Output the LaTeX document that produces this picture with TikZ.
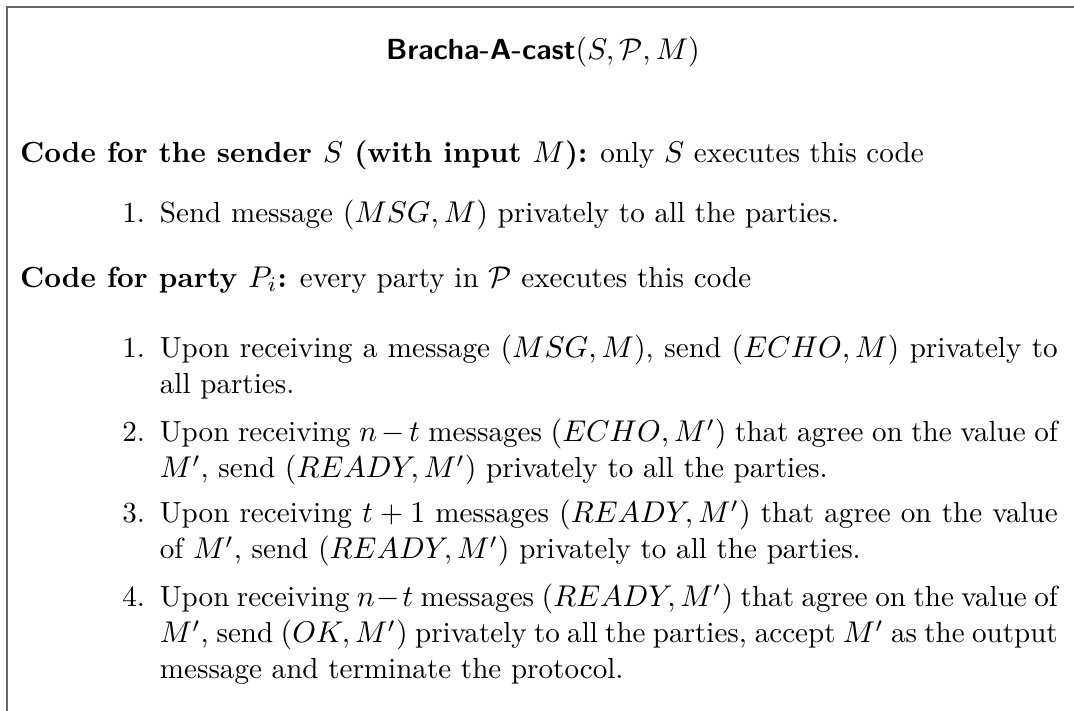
\documentclass[tikz,border=0pt]{standalone}
\usepackage{amsmath}
\begin{document}
\begin{tikzpicture}[x=1pt,y=-1pt,
  txt/.style={inner sep=0pt, outer sep=0pt, font=\fontsize{9.7pt}{12pt}\selectfont},
  itembody/.style={txt, anchor=north west, text width=299.3pt, align=justify},
  itemnum/.style={txt, anchor=base east},
  heading/.style={txt, anchor=base west},
  frame/.style={draw=black!60, line width=0.7pt}]
\useasboundingbox (0,0) rectangle (358,237);
\draw[frame] (2.33,250) -- (2.33,2.33) -- (370,2.33);
\node[txt, anchor=base] (title) at (181,20) {\textsf{\textbf{Bracha-A-cast}}$(S,\mathcal{P},M)$};
\node[heading] (h1) at (6.7,54.3) {\textbf{Code for the sender $S$ (with input $M$):} only $S$ executes this code};
\node[itemnum] (s1n) at (48.3,74.3) {1.};
\node[itembody] (s1) at (53.3,65.9) {\strut Send message $(MSG,M)$ privately to all the parties.};
\node[heading] (h2) at (6.7,95.7) {\textbf{Code for party $P_i$:} every party in $\mathcal{P}$ executes this code};
\node[itemnum] (p1n) at (48.3,119.3) {1.};
\node[itembody] (p1) at (53.3,110.9) {\strut Upon receiving a message $(MSG,M)$, send $(ECHO,M)$ privately to\linebreak all parties.};
\node[itemnum] (p2n) at (48.3,147.3) {2.};
\node[itembody] (p2) at (53.3,138.9) {\strut Upon receiving $n-t$ messages $(ECHO,M')$ that agree on the value of\linebreak $M'$, send $(READY,M')$ privately to all the parties.};
\node[itemnum] (p3n) at (48.3,174.3) {3.};
\node[itembody] (p3) at (53.3,165.9) {\strut Upon receiving $t+1$ messages $(READY,M')$ that agree on the value\linebreak of $M'$, send $(READY,M')$ privately to all the parties.};
\node[itemnum] (p4n) at (48.3,202.3) {4.};
\node[itembody] (p4) at (53.3,193.9) {\strut Upon receiving $n-t$ messages $(READY,M')$ that agree on the value of\linebreak $M'$, send $(OK,M')$ privately to all the parties, accept $M'$ as the output\linebreak message and terminate the protocol.};
\end{tikzpicture}
\end{document}
